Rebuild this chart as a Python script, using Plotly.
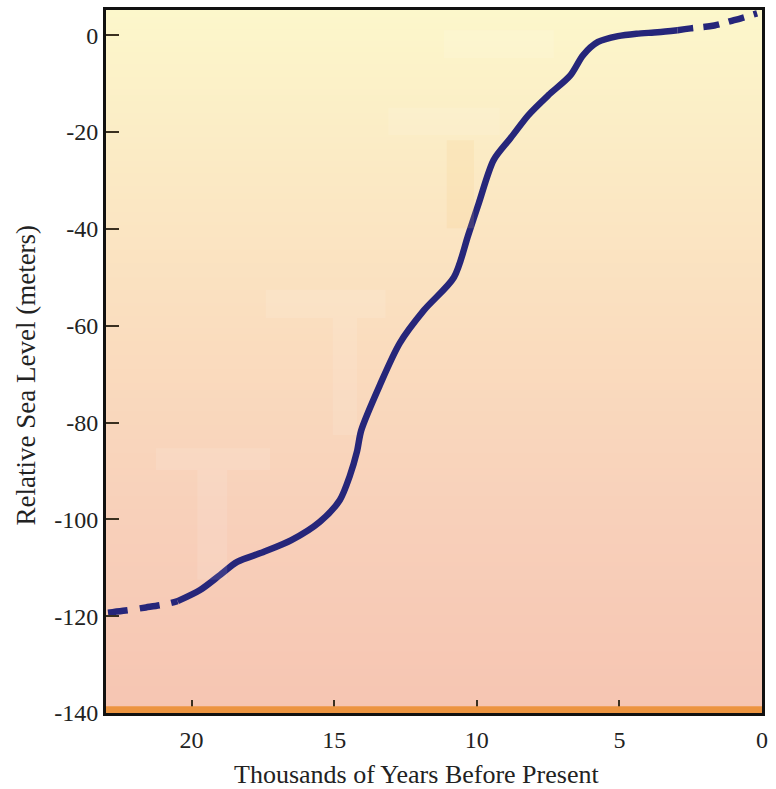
import numpy as np
import plotly.graph_objects as go

# ---- data ----
old_dash_x = [22.93, 22.4, 21.6, 20.9, 20.49]
old_dash_y = [-119.3, -118.9, -118.2, -117.5, -116.9]

main_x = [20.49, 19.7, 19.0, 18.4, 17.5, 16.5, 15.5, 14.8, 14.45, 14.2, 14.05,
          13.4, 12.7, 11.85, 10.8, 10.3, 9.93, 9.41, 8.82, 8.19, 7.49, 6.72,
          6.27, 5.75, 5.05, 4.4, 3.66, 2.96]
main_y = [-116.9, -114.6, -111.5, -108.8, -106.8, -104.3, -100.5, -96.0, -91.0,
          -86.0, -81.6, -72.3, -63.6, -56.8, -50.0, -41.3, -34.7, -25.8, -21.3,
          -16.5, -12.4, -8.3, -4.1, -1.4, -0.2, 0.3, 0.6, 1.0]

recent_dash_x = [2.96, 2.5, 1.67, 0.98, 0.17]
recent_dash_y = [1.0, 1.4, 2.0, 3.1, 4.5]

x_ticks = [20, 15, 10, 5, 0]
y_ticks = [0, -20, -40, -60, -80, -100, -120, -140]

x_title = "Thousands of Years Before Present"
y_title = "Relative Sea Level (meters)"

# faint ghost "T" marks in the background (x0, x1, y0, y1)
ghost_x0 = [17.4, 15.05, 21.25, 19.8, 11.15, 13.1]
ghost_x1 = [13.2, 14.2, 17.25, 18.75, 7.3, 9.2]
ghost_y0 = [-52.6, -58.4, -85.3, -89.8, 1.0, -15.0]
ghost_y1 = [-58.4, -82.6, -89.8, -112.5, -4.7, -20.6]
ghost_orange = [11.05, 10.1, -21.7, -39.9]

X_RANGE = [23, 0]
Y_RANGE = [-140, 5.2]

LINE_COLOR = "#26267a"

fig = go.Figure()

# gradient background via heatmap
bg_y = np.linspace(Y_RANGE[0], Y_RANGE[1], 80)
bg_z = [[v, v] for v in bg_y]
fig.add_trace(go.Heatmap(
    x=X_RANGE, y=bg_y, z=bg_z,
    colorscale=[[0.0, "#f6c5b2"], [0.28, "#f8d0ba"], [0.52, "#fadcbe"],
                [0.76, "#fbe9c4"], [1.0, "#fcf7cb"]],
    showscale=False, hoverinfo="skip", zsmooth="best",
))

fig.add_trace(go.Scatter(
    x=old_dash_x, y=old_dash_y, mode="lines",
    line=dict(color=LINE_COLOR, width=6.5, dash="20px,12px", shape="spline"),
    hoverinfo="skip", showlegend=False,
))
fig.add_trace(go.Scatter(
    x=main_x, y=main_y, mode="lines",
    line=dict(color=LINE_COLOR, width=6.5, shape="spline", smoothing=0.8),
    showlegend=False,
))
fig.add_trace(go.Scatter(
    x=recent_dash_x, y=recent_dash_y, mode="lines",
    line=dict(color=LINE_COLOR, width=6.5, dash="16px,10px", shape="spline"),
    hoverinfo="skip", showlegend=False,
))

shapes = []
for x0, x1, y0, y1 in zip(ghost_x0, ghost_x1, ghost_y0, ghost_y1):
    shapes.append(dict(type="rect", xref="x", yref="y", x0=x0, x1=x1, y0=y0, y1=y1,
                       fillcolor="rgba(255,255,255,0.1)", line=dict(width=0), layer="above"))
shapes.append(dict(type="rect", xref="x", yref="y", x0=ghost_orange[0], x1=ghost_orange[1],
                   y0=ghost_orange[2], y1=ghost_orange[3],
                   fillcolor="rgba(245,195,120,0.14)", line=dict(width=0), layer="above"))
# orange strip at the bottom
shapes.append(dict(type="rect", xref="paper", yref="y", x0=0, x1=1, y0=-140, y1=-138.6,
                   fillcolor="#ec9440", line=dict(width=0), layer="above"))

font_family = "Liberation Serif, Times New Roman, serif"

annotations = [
    dict(text=x_title, xref="paper", yref="paper", x=0.5, y=0, xanchor="center",
         yanchor="top", xshift=-18, yshift=-45, showarrow=False,
         font=dict(size=26, family=font_family, color="#222222")),
    dict(text=y_title, xref="paper", yref="paper", x=0, y=0.5, xanchor="center",
         yanchor="middle", xshift=-81, yshift=-14, textangle=-90, showarrow=False,
         font=dict(size=27, family=font_family, color="#222222")),
]

fig.update_layout(
    width=776, height=789,
    margin=dict(l=106, r=14, t=10, b=76, autoexpand=False),
    paper_bgcolor="white",
    plot_bgcolor="#fbe9c4",
    shapes=shapes,
    annotations=annotations,
    font=dict(family=font_family, size=24, color="#222222"),
    showlegend=False,
)
fig.update_xaxes(
    range=X_RANGE, tickvals=x_ticks, ticktext=[str(v) for v in x_ticks],
    ticks="inside", ticklen=13, tickwidth=2, tickcolor="#3a3020",
    showline=True, linecolor="#111111", linewidth=3, mirror=True,
    showgrid=False, zeroline=False, ticklabelstandoff=3, automargin=False,
    tickfont=dict(size=24),
)
fig.update_yaxes(
    range=Y_RANGE, tickvals=y_ticks, ticktext=[str(v) for v in y_ticks],
    ticks="inside", ticklen=13, tickwidth=2, tickcolor="#3a3020",
    showline=True, linecolor="#111111", linewidth=3, mirror=True,
    showgrid=False, zeroline=False, automargin=False,
    tickfont=dict(size=24),
)

fig.write_html("out.html", config={"displayModeBar": False},
               post_script="document.body.style.margin='0';document.body.style.overflow='hidden';")
